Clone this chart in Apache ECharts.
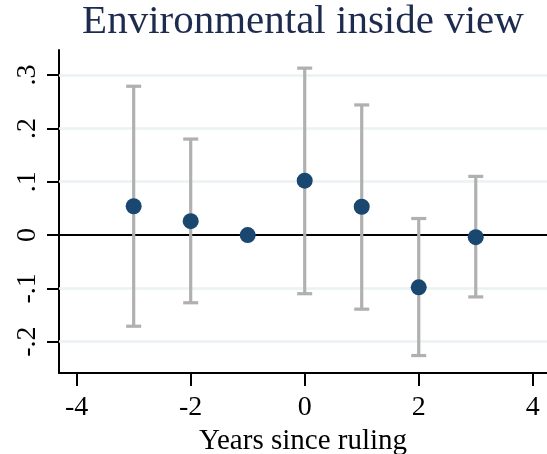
<!DOCTYPE html>
<html>
<head>
<meta charset="utf-8">
<script src="https://cdn.jsdelivr.net/npm/echarts@6/dist/echarts.min.js"></script>
<style>
  html, body { margin: 0; padding: 0; background: #ffffff; }
  #chart { width: 547px; height: 454px; }
</style>
</head>
<body>
<div id="chart"></div>
<script>
// Event-study estimates with 95% confidence intervals
const years = [-3, -2, -1, 0, 1, 2, 3];
const estimates = [0.054, 0.026, 0, 0.102, 0.053, -0.098, -0.004];
const ciLow = [-0.171, -0.127, null, -0.110, -0.139, -0.226, -0.116];
const ciHigh = [0.279, 0.180, null, 0.313, 0.244, 0.031, 0.110];
const yTicks = [-0.2, -0.1, 0, 0.1, 0.2, 0.3];
const xTicks = [-4, -2, 0, 2, 4];

const serif = '"Liberation Serif", "Times New Roman", serif';

function fmtY(v) {
  if (Math.abs(v) < 1e-9) return '0';
  const s = (Math.round(v * 10) / 10).toString();
  return s.replace('0.', '.');
}

const chart = echarts.init(document.getElementById('chart'), null, { renderer: 'canvas' });

const pointData = years.map((x, i) => [x, estimates[i]]);
const ciData = years
  .map((x, i) => [x, ciLow[i], ciHigh[i]])
  .filter(d => d[1] !== null && d[2] !== null);

chart.setOption({
  animation: false,
  backgroundColor: '#ffffff',
  title: {
    text: 'Environmental inside view',
    left: 303,
    top: 2,
    padding: 0,
    textAlign: 'center',
    textStyle: { fontFamily: serif, fontSize: 41, fontWeight: 'normal', color: '#1c2b4e' }
  },
  grid: { left: 59, right: 0, top: 50, bottom: 81, containLabel: false, outerBoundsMode: 'none' },
  xAxis: {
    type: 'value',
    min: -4.31,
    max: 4.25,
    name: 'Years since ruling',
    nameLocation: 'middle',
    nameGap: 49,
    nameTextStyle: { fontFamily: serif, fontSize: 29, color: '#000' },
    axisLine: { show: true, onZero: false, lineStyle: { color: '#000', width: 2 } },
    axisTick: { show: true, length: 13, customValues: xTicks, lineStyle: { color: '#000', width: 2 } },
    axisLabel: {
      customValues: xTicks,
      margin: 21,
      fontFamily: serif, fontSize: 28, color: '#000'
    },
    splitLine: { show: false }
  },
  yAxis: {
    type: 'value',
    min: -0.2587,
    max: 0.347,
    axisLine: { show: true, onZero: false, lineStyle: { color: '#000', width: 2 } },
    axisTick: { show: true, length: 12, customValues: yTicks, lineStyle: { color: '#000', width: 2 } },
    axisLabel: {
      customValues: yTicks,
      rotate: 90,
      margin: 17,
      fontFamily: serif, fontSize: 28, color: '#000',
      formatter: fmtY
    },
    splitLine: { show: false }
  },
  series: [
    {
      // horizontal gridlines and the zero reference line
      type: 'scatter',
      data: [],
      silent: true,
      z: 1,
      markLine: {
        silent: true,
        z: 1,
        symbol: 'none',
        label: { show: false },
        animation: false,
        data: yTicks.filter(v => v !== 0).map(v => ({
          yAxis: v,
          lineStyle: { color: '#eaf2f3', width: 2.5, type: 'solid' }
        })).concat([{
          yAxis: 0,
          lineStyle: { color: '#000000', width: 2.2, type: 'solid' }
        }])
      }
    },
    {
      // confidence interval whiskers with caps
      type: 'custom',
      z: 8,
      data: ciData,
      renderItem: function (params, api) {
        const x = api.value(0);
        const lo = api.coord([x, api.value(1)]);
        const hi = api.coord([x, api.value(2)]);
        const cap = 7.5;
        const style = { stroke: '#b0b0b0', lineWidth: 3.2, fill: null };
        return {
          type: 'group',
          children: [
            { type: 'line', shape: { x1: lo[0], y1: lo[1], x2: hi[0], y2: hi[1] }, style: style },
            { type: 'line', shape: { x1: lo[0] - cap, y1: lo[1], x2: lo[0] + cap, y2: lo[1] }, style: style },
            { type: 'line', shape: { x1: hi[0] - cap, y1: hi[1], x2: hi[0] + cap, y2: hi[1] }, style: style }
          ]
        };
      }
    },
    {
      // point estimates
      type: 'scatter',
      z: 10,
      data: pointData,
      symbol: 'circle',
      symbolSize: 16,
      itemStyle: { color: '#1a476f', opacity: 1 }
    }
  ]
});
</script>
</body>
</html>
